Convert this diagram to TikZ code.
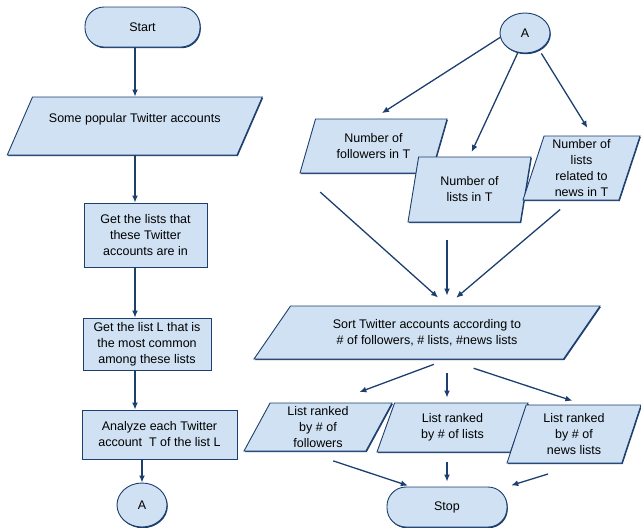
\documentclass[tikz,border=0pt]{standalone}
\usepackage{fontspec}
\setmainfont{Liberation Sans}
\usepackage{xcolor}
\usepackage{tikz}
\usetikzlibrary{positioning,arrows.meta,calc,shapes.geometric,shadows}

\definecolor{boxfill}{RGB}{208,225,243}
\definecolor{navy}{RGB}{28,63,110}

\begin{document}
\begin{tikzpicture}[
  x=1pt, y=-1pt,
  every node/.style={font=\fontsize{12.5}{16}\selectfont},
  box/.style={draw=navy, line width=0.9pt, fill=boxfill, align=center, inner sep=2pt,
    drop shadow={shadow xshift=0.8pt, shadow yshift=-1.2pt, fill=navy, opacity=1}},
  term/.style={box, rectangle, rounded corners=19pt, minimum width=#1, minimum height=40pt},
  proc/.style 2 args={box, rectangle, minimum width=#1, minimum height=#2},
  conn/.style={box, ellipse, minimum width=50pt, minimum height=#1},
  io/.style n args={3}{box, trapezium, trapezium stretches body,
    trapezium left angle=#1, trapezium right angle=180-#1, minimum width=#2, minimum height=#3},
  arr/.style={draw=navy, line width=1.3pt, -{Latex[length=7pt,width=6pt]}},
]
  \useasboundingbox (0,0) rectangle (641,528);

  % left column
  \node[term=115pt] (start) at (142.5,27) {Start};
  \node[io={49}{255pt}{58pt}] (popular) at (134.75,126) {Some popular Twitter accounts\\ ~};
  \node[proc={123pt}{64pt}] (getLists) at (145.5,235) {Get the lists that\\these Twitter\\accounts are in};
  \node[proc={128pt}{52pt}] (getL) at (147,344) {Get the list L that is\\the most common\\among these lists};
  \node[proc={155pt}{49pt}] (analyze) at (159.5,434.5) {Analyze each Twitter\\account\ \ T of the list L};
  \node[conn=44pt] (aLeft) at (142,505) {A};

  \coordinate (spine) at (135,0);
  \draw[arr] (start.south -| spine) -- (popular.north -| spine);
  \draw[arr] (popular.south -| spine) -- (getLists.north -| spine);
  \draw[arr] (getLists.south -| spine) -- (getL.north -| spine);
  \draw[arr] (getL.south -| spine) -- (analyze.north -| spine);
  \draw[arr] (analyze.south -| aLeft) -- (aLeft.north);

  % right part
  \node[conn=40pt] (aTop) at (525,33) {A};
  \node[io={62}{147pt}{54pt}] (followers) at (373.5,146) {Number of\\followers in T};
  \node[io={70}{123pt}{65pt}] (lists) at (469.5,189.5) {Number of\\lists in T};
  \node[io={71}{117pt}{64pt}] (news) at (581.5,168) {Number of\\lists\\related to\\news in T};
  \node[io={40}{346pt}{53pt}] (sort) at (427,332.5) {Sort Twitter accounts according to\\\# of followers, \# lists, \#news lists};
  \node[io={60}{148pt}{48pt}] (byFoll) at (318,427) {List ranked\\by \# of\\followers};
  \node[io={61}{151pt}{49pt}] (byLists) at (452.5,427.5) {List ranked\\by \# of lists};
  \node[io={67}{134pt}{58pt}] (byNews) at (574,434) {List ranked\\by \# of\\news lists};
  \node[term=120pt] (stop) at (447,507) {Stop};

  \draw[arr, shorten >=10pt] (aTop.190) -- (followers.north);
  \draw[arr, shorten >=5pt] (aTop.250) -- (lists.north);
  \draw[arr, shorten <=4pt, shorten >=9pt] (aTop.310) -- (news.top side);

  \coordinate (sortIn) at (sort.north -| stop);
  \draw[arr, shorten <=28pt, shorten >=12pt] (followers.bottom left corner) -- (sortIn);
  \draw[arr, shorten <=18pt, shorten >=10pt] (sortIn |- lists.south) -- (sortIn);
  \draw[arr, shorten <=14pt, shorten >=12pt] (news.bottom side) -- (sortIn);

  \coordinate (sortOut) at (sort.south -| stop);
  \draw[arr, shorten <=14pt, shorten >=30pt] (sortOut) -- (byFoll.top side);
  \draw[arr, shorten <=14pt, shorten >=5pt] (sortOut) -- (sortOut |- byLists.north);
  \draw[arr, shorten <=28pt, shorten >=12pt] (sortOut) -- (byNews.top side);

  \coordinate (newsOut) at (548,474);
  \draw[arr, shorten <=30pt, shorten >=3pt] (byFoll.bottom side) -- ($(stop.north west)!0.2!(stop.north east)$);
  \draw[arr, shorten <=10pt, shorten >=5pt] (byLists.south -| stop) -- (stop.north);
  \draw[arr, shorten >=4pt] (newsOut) -- (stop.north east);
\end{tikzpicture}
\end{document}
